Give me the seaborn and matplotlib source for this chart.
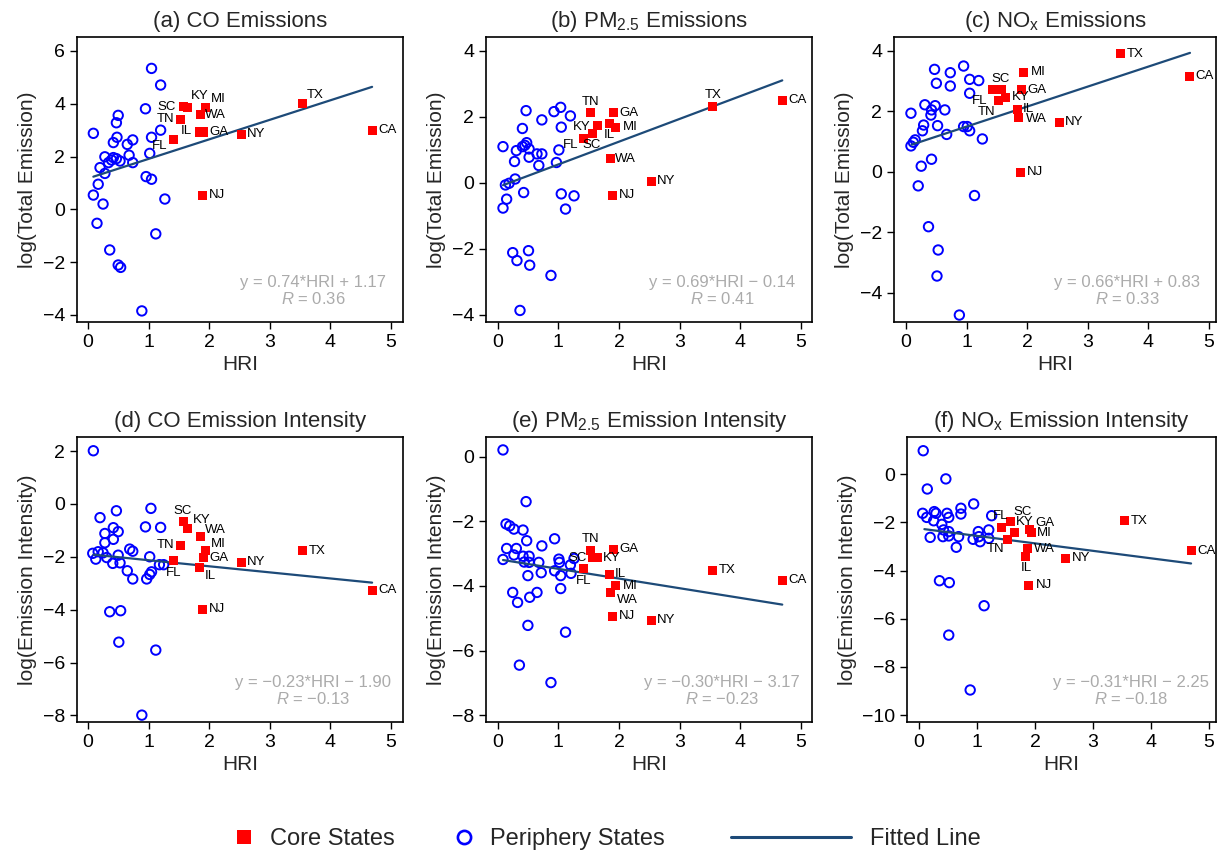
import numpy as np
import pandas as pd
import matplotlib.pyplot as plt
import seaborn as sns
from matplotlib.lines import Line2D

sns.set_theme(style='ticks')
plt.rcParams['font.family'] = ['Liberation Sans', 'DejaVu Sans']
plt.rcParams['mathtext.fontset'] = 'custom'
plt.rcParams['mathtext.rm'] = 'Liberation Sans'
plt.rcParams['mathtext.it'] = 'Liberation Sans:italic'
plt.rcParams['axes.edgecolor'] = 'black'
plt.rcParams['axes.linewidth'] = 1.0
plt.rcParams['xtick.color'] = 'black'
plt.rcParams['ytick.color'] = 'black'

# core states (same HRI in every panel)
core_states = ['CA', 'TX', 'NY', 'NJ', 'IL', 'MI', 'GA', 'WA', 'KY', 'SC', 'TN', 'FL']
core_hri = [4.69, 3.54, 2.53, 1.89, 1.84, 1.94, 1.91, 1.86, 1.64, 1.57, 1.53, 1.42]

core_a = [3.00, 4.01, 2.85, 0.54, 2.93, 3.86, 2.93, 3.58, 3.86, 3.89, 3.41, 2.65]
core_b = [2.49, 2.32, 0.04, -0.38, 1.78, 1.68, 2.12, 0.72, 1.72, 1.49, 2.12, 1.34]
core_c = [3.16, 3.89, 1.63, -0.02, 2.04, 3.29, 2.70, 1.80, 2.46, 2.70, 2.34, 2.70]
core_d = [-3.26, -1.77, -2.21, -3.98, -2.42, -1.77, -2.03, -1.24, -0.94, -0.68, -1.56, -2.16]
core_e = [-3.83, -3.51, -5.06, -4.93, -3.63, -3.99, -2.86, -4.20, -3.12, -3.13, -2.89, -3.47]
core_f = [-3.17, -1.93, -3.49, -4.61, -3.42, -2.42, -2.31, -3.07, -2.41, -1.97, -2.70, -2.20]

# periphery states
peri_hri_a = [1.05, 1.20, 0.95, 0.50, 0.47, 0.09, 1.20, 0.48, 1.05, 0.74, 0.42, 0.65, 1.02, 0.28, 0.68,
              0.42, 0.53, 0.34, 0.74, 0.20, 0.28, 0.47, 0.96, 1.05, 0.17, 0.09, 1.27, 0.25, 0.15, 1.12,
              0.36, 0.50, 0.54, 0.89, 0.39]
peri_val_a = [5.34, 4.71, 3.81, 3.56, 3.28, 2.88, 3.00, 2.73, 2.73, 2.63, 2.53, 2.46, 2.12, 1.99, 2.05,
              1.96, 1.83, 1.77, 1.77, 1.58, 1.36, 1.92, 1.24, 1.14, 0.95, 0.54, 0.39, 0.20, -0.53, -0.93,
              -1.54, -2.11, -2.20, -3.85, 1.87]

peri_hri_b = [0.47, 0.93, 1.04, 1.20, 0.73, 0.41, 1.05, 0.09, 0.48, 0.41, 0.52, 0.31, 1.01, 0.65, 0.73,
              0.52, 0.28, 0.68, 0.97, 0.29, 0.19, 0.13, 0.43, 1.05, 1.26, 0.15, 0.09, 1.12, 0.25, 0.51,
              0.32, 0.53, 0.88, 0.37, 0.45]
peri_val_b = [2.18, 2.15, 2.28, 2.02, 1.90, 1.64, 1.68, 1.09, 1.21, 1.09, 1.02, 0.97, 0.99, 0.87, 0.87,
              0.77, 0.64, 0.52, 0.61, 0.11, -0.02, -0.07, -0.30, -0.34, -0.40, -0.50, -0.77, -0.80, -2.12, -2.06,
              -2.36, -2.50, -2.81, -3.87, 1.13]

peri_hri_c = [0.95, 0.47, 0.73, 0.50, 0.73, 1.05, 1.20, 1.05, 0.31, 0.48, 0.42, 0.64, 0.08, 0.41, 0.29,
              0.52, 0.27, 0.67, 0.95, 1.01, 1.05, 1.26, 0.15, 0.12, 0.08, 0.42, 0.25, 0.20, 1.13, 0.37,
              0.53, 0.51, 0.88]
peri_val_c = [3.49, 3.38, 3.27, 2.92, 2.83, 3.05, 3.01, 2.59, 2.21, 2.18, 2.04, 2.04, 1.93, 1.87, 1.54,
              1.52, 1.35, 1.23, 1.49, 1.49, 1.35, 1.08, 1.05, 0.97, 0.85, 0.41, 0.18, -0.47, -0.79, -1.82,
              -2.59, -3.45, -4.74]

peri_hri_d = [0.09, 0.47, 1.04, 0.20, 0.95, 1.20, 0.42, 0.50, 0.28, 0.42, 0.28, 0.69, 0.74, 0.08, 0.17,
              0.25, 0.13, 0.31, 0.50, 1.02, 0.41, 0.53, 0.65, 1.18, 1.25, 1.05, 1.02, 0.74, 0.97, 0.36,
              0.54, 0.51, 1.12, 0.89]
peri_val_d = [2.01, -0.26, -0.17, -0.52, -0.87, -0.89, -0.90, -1.05, -1.12, -1.34, -1.47, -1.71, -1.79, -1.87, -1.81,
              -1.85, -2.09, -2.03, -1.94, -2.00, -2.25, -2.23, -2.53, -2.30, -2.30, -2.57, -2.67, -2.84, -2.84, -4.08,
              -4.04, -5.23, -5.53, -7.99]

peri_hri_e = [0.09, 0.47, 0.14, 0.20, 0.27, 0.42, 0.48, 0.94, 0.73, 0.15, 0.31, 0.27, 0.42, 0.52, 0.09,
              0.44, 0.52, 0.68, 1.01, 1.02, 1.20, 1.26, 0.94, 0.72, 1.21, 1.04, 0.50, 1.04, 0.25, 0.65,
              0.53, 0.33, 0.50, 1.12, 0.36, 0.88]
peri_val_e = [0.21, -1.39, -2.08, -2.14, -2.24, -2.27, -2.60, -2.54, -2.76, -2.84, -2.84, -3.04, -3.08, -3.08, -3.18,
              -3.26, -3.27, -3.27, -3.17, -3.27, -3.35, -3.15, -3.53, -3.59, -3.61, -3.68, -3.68, -4.08, -4.20, -4.20,
              -4.35, -4.51, -5.22, -5.43, -6.45, -6.99]

peri_hri_f = [0.07, 0.46, 0.14, 0.94, 0.72, 0.72, 1.25, 0.06, 0.26, 0.29, 0.48, 0.51, 0.13, 0.25, 0.39,
              0.42, 0.51, 0.51, 0.41, 0.19, 0.68, 0.64, 0.93, 1.02, 1.03, 1.05, 1.20, 1.20, 0.35, 0.52,
              1.12, 0.51, 0.88]
peri_val_f = [0.98, -0.19, -0.61, -1.23, -1.41, -1.65, -1.72, -1.62, -1.55, -1.62, -1.62, -1.79, -1.79, -1.93, -2.08,
              -2.31, -2.38, -2.56, -2.59, -2.62, -2.59, -3.03, -2.70, -2.38, -2.59, -2.80, -2.31, -2.66, -4.42, -4.50,
              -5.46, -6.68, -8.96]

titles = ['(a) CO Emissions', '(b) PM$_{2.5}$ Emissions', '(c) NO$_{\\mathrm{x}}$ Emissions',
          '(d) CO Emission Intensity', '(e) PM$_{2.5}$ Emission Intensity',
          '(f) NO$_{\\mathrm{x}}$ Emission Intensity']
ylabels = ['log(Total Emission)'] * 3 + ['log(Emission Intensity)'] * 3
slopes = [0.74, 0.69, 0.66, -0.23, -0.30, -0.31]
intercepts = [1.17, -0.14, 0.83, -1.90, -3.17, -2.25]
r_values = [0.36, 0.41, 0.33, -0.13, -0.23, -0.18]

core_list = [core_a, core_b, core_c, core_d, core_e, core_f]
peri_list = [(peri_hri_a, peri_val_a), (peri_hri_b, peri_val_b), (peri_hri_c, peri_val_c),
             (peri_hri_d, peri_val_d), (peri_hri_e, peri_val_e), (peri_hri_f, peri_val_f)]

# layout (pixels of a 1221x856 canvas)
W, H = 1221, 856
boxes = [(77, 37, 326, 285), (486, 37, 326, 285), (894, 37, 322, 285),
         (77, 437, 326, 285), (486, 437, 326, 285), (907, 437, 309, 285)]
xlims = [(-0.18, 5.2), (-0.19, 5.18), (-0.2, 5.12), (-0.18, 5.2), (-0.19, 5.18), (-0.21, 5.12)]
ylims = [(-4.27, 6.53), (-4.22, 4.41), (-4.97, 4.45), (-8.25, 2.53), (-8.21, 0.61), (-10.29, 1.55)]
yticks = [range(-4, 7, 2), range(-4, 5, 2), range(-4, 5, 2), range(-8, 3, 2), range(-8, 1, 2), range(-10, 1, 2)]

# label offsets in pixels (dx right, dy down) for the state names; default is to the right
label_offsets = [
    {'SC': (-16, 0), 'KY': (12, -11), 'MI': (13, -8), 'TN': (-15, 0), 'IL': (-13, -1),
     'FL': (-14, 7), 'TX': (13, -8)},
    {'TN': (0, -11), 'KY': (-15, 1), 'IL': (0, 11), 'SC': (-1, 12), 'FL': (-13, 7), 'TX': (1, -11)},
    {'SC': (-1, -11), 'FL': (-12, 11), 'TN': (-12, 11), 'IL': (11, -1), 'WA': (18, 2)},
    {'SC': (0, -11), 'KY': (14, -9), 'WA': (15, -7), 'TN': (-15, 0), 'MI': (13, -7),
     'FL': (0, 12), 'IL': (11, 8)},
    {'TN': (0, -11), 'SC': (-15, 0), 'FL': (0, 12), 'IL': (11, 0), 'WA': (17, 8)},
    {'FL': (-1, -11), 'SC': (12, -10), 'KY': (10, -10), 'GA': (15, -7), 'MI': (13, 0),
     'TN': (-12, 10), 'WA': (17, 1), 'IL': (0, 11)},
]

line_color = '#1d4a78'
gray = '#ababab'

fig = plt.figure(figsize=(W / 100, H / 100), dpi=100)

all_hri = np.array(core_hri + peri_hri_a)
x_fit = np.array([all_hri.min(), all_hri.max()])

for i in range(6):
    l, t, w, h = boxes[i]
    ax = fig.add_axes([l / W, (H - t - h) / H, w / W, h / H])
    ph, pv = peri_list[i]
    sns.scatterplot(x=ph, y=pv, ax=ax, marker='o', s=46, facecolor='none',
                    edgecolor='blue', linewidth=1.4, zorder=2)
    sns.lineplot(x=x_fit, y=slopes[i] * x_fit + intercepts[i], ax=ax, color=line_color,
                 linewidth=1.6, zorder=3)
    sns.scatterplot(x=core_hri, y=core_list[i], ax=ax, marker='s', s=42, color='red',
                    edgecolor='none', linewidth=0, zorder=4)
    for name, hx, vy in zip(core_states, core_hri, core_list[i]):
        dx, dy = label_offsets[i].get(name, (15, 0))
        ax.annotate(name, (hx, vy), xytext=(dx * 0.72, -dy * 0.72), textcoords='offset points',
                    ha='center', va='center', fontsize=9.5, color='black', zorder=5)

    sign = '+' if intercepts[i] >= 0 else '\u2212'
    eq = f"y = {slopes[i]:.2f}*HRI {sign} {abs(intercepts[i]):.2f}".replace('-', '\u2212')
    rr = f"$R$ = {r_values[i]:.2f}".replace('-', '\u2212')
    ax.text(0.725, 0.14, eq, transform=ax.transAxes, ha='center', va='center', fontsize=12, color=gray)
    ax.text(0.725, 0.08, rr, transform=ax.transAxes, ha='center', va='center', fontsize=12, color=gray)

    ax.set_xlim(*xlims[i])
    ax.set_ylim(*ylims[i])
    ax.set_xticks(range(0, 6))
    ax.set_yticks(list(yticks[i]))
    ax.tick_params(direction='out', length=5, width=1, labelsize=14, top=False, right=False)
    for sp in ax.spines.values():
        sp.set_visible(True)
        sp.set_color('black')
        sp.set_linewidth(1.2)
    ax.set_title(titles[i], fontsize=16, pad=7)
    ax.set_xlabel('HRI', fontsize=15, labelpad=3)
    ax.set_ylabel(ylabels[i], fontsize=15, labelpad=4)

# legend entries placed one by one
fs = 17
em = fs * 100 / 72
ly = (H - 839) / H
h_core = Line2D([], [], marker='s', color='red', linestyle='none', markersize=9.4, markeredgewidth=0)
h_peri = Line2D([], [], marker='o', color='blue', markerfacecolor='none', linestyle='none',
                markersize=9.5, markeredgewidth=1.9)
h_fit = Line2D([], [], color=line_color, linewidth=2.2)
fig.legend(handles=[h_core], labels=['Core States'], loc='center left', bbox_to_anchor=(232 / W, ly),
           frameon=False, fontsize=fs, handlelength=1, handletextpad=0.62, borderpad=0, borderaxespad=0)
fig.legend(handles=[h_peri], labels=['Periphery States'], loc='center left', bbox_to_anchor=(452 / W, ly),
           frameon=False, fontsize=fs, handlelength=1, handletextpad=0.62, borderpad=0, borderaxespad=0)
fig.legend(handles=[h_fit], labels=['Fitted Line'], loc='center left', bbox_to_anchor=(731 / W, ly),
           frameon=False, fontsize=fs, handlelength=120 / em, handletextpad=0.82, borderpad=0, borderaxespad=0)

fig.savefig('out.png', dpi=100)
